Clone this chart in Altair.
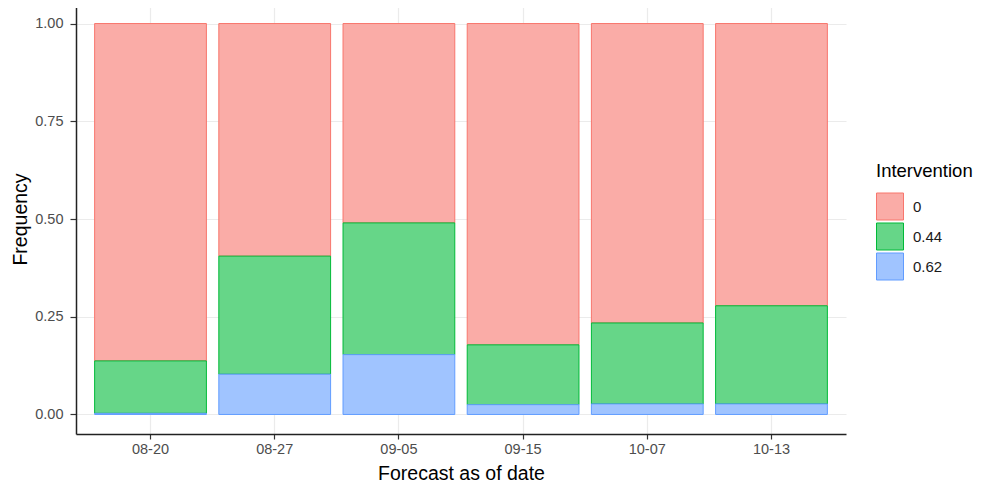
import altair as alt
import pandas as pd

dates = ["08-20", "08-27", "09-05", "09-15", "10-07", "10-13"]
interventions = ["0", "0.44", "0.62"]
freq_0 = [0.863, 0.595, 0.510, 0.822, 0.766, 0.722]
freq_044 = [0.134, 0.302, 0.337, 0.153, 0.207, 0.251]
freq_062 = [0.003, 0.103, 0.153, 0.025, 0.027, 0.027]
stroke_colors = ["#F8766D", "#00BA38", "#619CFF"]
fill_colors = ["#FAACA7", "#66D688", "#A0C4FF"]
y_ticks = [0, 0.25, 0.5, 0.75, 1.0]

rows = []
series = {"0": freq_0, "0.44": freq_044, "0.62": freq_062}
stack_order = {"0.62": 0, "0.44": 1, "0": 2}
for lab in interventions:
    for d, v in zip(dates, series[lab]):
        rows.append({"date": d, "Intervention": lab, "freq": v, "ord": stack_order[lab]})
df = pd.DataFrame(rows)

FONT = "Liberation Sans"

leg = alt.Legend(title="Intervention", orient="none", legendX=800, legendY=158)

chart = alt.Chart(df).mark_bar(strokeWidth=1).encode(
    x=alt.X("date:N", sort=dates,
            scale=alt.Scale(paddingInner=0.1, paddingOuter=0.15),
            axis=alt.Axis(title="Forecast as of date", labelAngle=0, bandPosition=0.5,
                          tickSize=5, labelPadding=3, titleY=45,
                          titleBaseline="alphabetic")),
    y=alt.Y("freq:Q", stack="zero",
            scale=alt.Scale(domain=[-0.05, 1.05], nice=False, zero=False),
            axis=alt.Axis(title="Frequency", values=y_ticks, format=".2f",
                          tickSize=6, labelPadding=7, titleX=-50,
                          titleBaseline="alphabetic")),
    fill=alt.Fill("Intervention:N",
                  scale=alt.Scale(domain=interventions, range=fill_colors),
                  legend=leg),
    stroke=alt.Stroke("Intervention:N",
                      scale=alt.Scale(domain=interventions, range=stroke_colors),
                      legend=leg),
    order=alt.Order("ord:Q"),
).properties(
    width=770, height=430,
    autosize=alt.AutoSizeParams(type="none"),
    padding={"left": 68, "top": -4, "right": 128, "bottom": 48},
).configure_view(
    stroke=None
).configure_axis(
    labelFont=FONT, titleFont=FONT, labelFontSize=14.5, titleFontSize=19.5,
    labelColor="#4D4D4D", titleColor="#000000", titleFontWeight="normal",
    domainColor="#222222", domainWidth=1.5, tickColor="#333333", tickWidth=1.2,
    gridColor="#EBEBEB", gridWidth=1.2, grid=True,
).configure_legend(
    titleFont=FONT, labelFont=FONT, titleFontSize=18.5, labelFontSize=15,
    titleFontWeight="normal", titleColor="#000000", labelColor="#1A1A1A",
    symbolType="square", symbolSize=729, symbolStrokeWidth=1,
    rowPadding=-3, titlePadding=12, labelOffset=9, padding=0,
)

chart.save("out.html", embed_options={"renderer": "svg", "actions": False})
